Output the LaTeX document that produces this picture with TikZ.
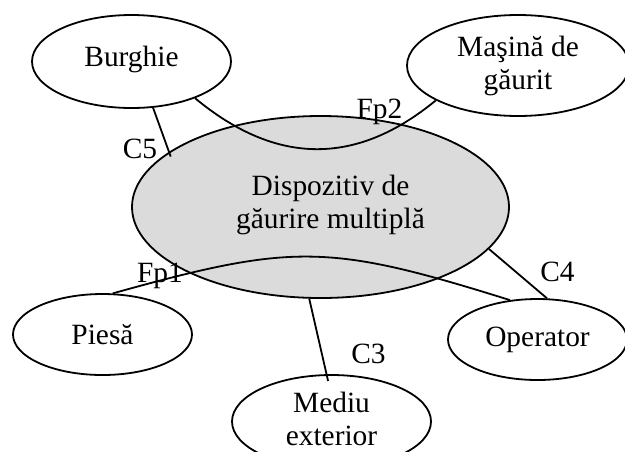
\documentclass[tikz,border=0pt]{standalone}
\usepackage{fontspec}
\setmainfont{Liberation Serif}
\usetikzlibrary{shapes.geometric}
\definecolor{devfill}{gray}{0.86}
\tikzset{
  txt/.style={font=\fontsize{14.7}{16.5}\selectfont},
  ent/.style={draw,ellipse,line width=0.9pt,inner sep=0pt,align=center,txt},
  core/.style={ent,fill=devfill},
  lab/.style={txt,anchor=base,inner sep=0pt},
  link/.style={line width=0.9pt},
}
\begin{document}
\begin{tikzpicture}[x=0.5pt,y=-0.5pt]
  \useasboundingbox (0,0) rectangle (625,451);
  % system and its neighbours
  \node[core,minimum width=188.5pt,minimum height=91pt,
    label={[txt,align=center,xshift=5pt,yshift=0.8pt]center:Dispozitiv de\\găurire multiplă}] (disp) at (320.5,207) {};
  \node[ent,minimum width=99.5pt,minimum height=46.5pt,text depth=5pt] (burg) at (131.5,61.5) {Burghie};
  \node[ent,minimum width=111pt,minimum height=50.5pt] (mas) at (518,65.5) {Maşină de\\găurit};
  \node[ent,minimum width=89.5pt,minimum height=40.5pt] (pie) at (102.5,334.5) {Piesă};
  \node[ent,minimum width=89.5pt,minimum height=40.5pt] (op) at (537.5,339.5) {Operator};
  \node[ent,minimum width=99.5pt,minimum height=46.5pt,text depth=3pt] (med) at (331.5,421.5) {Mediu\\exterior};
  % constraints
  \draw[link,shorten >=-2.5pt] (burg.-65) -- (disp.160);
  \draw[link] (disp.-14) -- (op.77);
  \draw[link,shorten >=-3.5pt] (disp.-97) -- (med.96);
  % principal functions
  \draw[link] (burg.-30) .. controls +(82,68) and +(-79,65) .. (mas.-157);
  \draw[link] (pie.76) .. controls +(180,-50) and +(-182,-57) .. (op.125);
  % labels
  \node[lab] (c5) at (140,158) {C5};
  \node[lab] (fp2) at (379.5,118) {Fp2};
  \node[lab] (fp1) at (160,282) {Fp1};
  \node[lab] (c4) at (557.5,281) {C4};
  \node[lab] (c3) at (368.5,363) {C3};
\end{tikzpicture}
\end{document}
